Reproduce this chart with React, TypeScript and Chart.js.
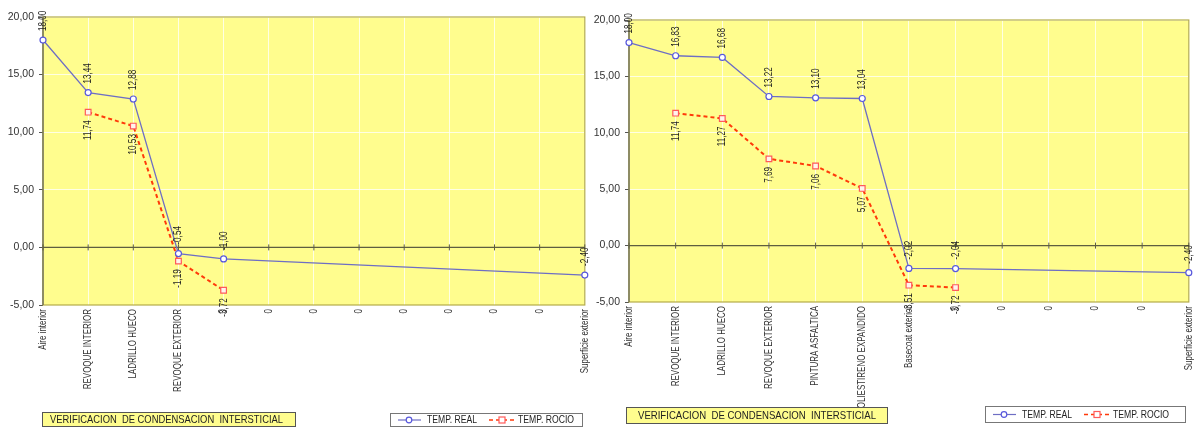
import React, { useEffect, useRef } from 'react';
import { Chart, registerables } from 'chart.js';

Chart.register(...registerables);

// ---------- DATA ----------
const categories1 = ['Aire interior', 'REVOQUE INTERIOR', 'LADRILLO HUECO', 'REVOQUE EXTERIOR', '0', '0', '0', '0', '0', '0', '0', '0', 'Superficie exterior'];
const tempReal1 = [18.0, 13.44, 12.88, -0.54, -1.0, null, null, null, null, null, null, null, -2.4];
const tempRocio1 = [null, 11.74, 10.53, -1.19, -3.72, null, null, null, null, null, null, null, null];

const categories2 = ['Aire interior', 'REVOQUE INTERIOR', 'LADRILLO HUECO', 'REVOQUE EXTERIOR', 'PINTURA ASFALTICA', 'POLIESTIRENO EXPANDIDO', 'Basecoat exterior', '0', '0', '0', '0', '0', 'Superficie exterior'];
const tempReal2 = [18.0, 16.83, 16.68, 13.22, 13.1, 13.04, -2.02, -2.04, null, null, null, null, -2.4];
const tempRocio2 = [null, 11.74, 11.27, 7.69, 7.06, 5.07, -3.51, -3.72, null, null, null, null, null];

const yMin = -5;
const yMax = 20;
const yStep = 5;
const seriesNames = ['TEMP. REAL', 'TEMP. ROCIO'];
const chartTitle = 'VERIFICACION  DE CONDENSACION  INTERSTICIAL';

// ---------- STYLE / LAYOUT ----------
const FONT = '"Liberation Sans", Arial, sans-serif';
const H = 428;
const REAL_COLOR = '#6E6EC4';
const REAL_POINT = '#5858DC';
const ROCIO_COLOR = '#FF3A0A';
const ROCIO_POINT = '#FF5A5A';
const PLOT_BG = '#FFFD8E';

type Layout = {
  left: number;
  width: number;
  area: { l: number; r: number; t: number; b: number };
  titleBox: { x: number; y: number; w: number; h: number; tx: number; tw: number };
  legendBox: { x: number; y: number; w: number; h: number };
};

const layout1: Layout = {
  left: 0,
  width: 590,
  area: { l: 43, r: 587, t: 17, b: 305 },
  titleBox: { x: 42, y: 412, w: 253, h: 14, tx: 8, tw: 233 },
  legendBox: { x: 390, y: 413, w: 192, h: 13 },
};

const layout2: Layout = {
  left: 590,
  width: 604,
  area: { l: 39, r: 599, t: 20, b: 302 },
  titleBox: { x: 36, y: 407, w: 261, h: 16, tx: 12, tw: 238 },
  legendBox: { x: 395, y: 406, w: 200, h: 16 },
};

function fmt(v: number) {
  return v.toFixed(2).replace('.', ',');
}

function fitText(ctx: CanvasRenderingContext2D, text: string, x: number, y: number, targetW: number) {
  const w = ctx.measureText(text).width;
  const s = w > 0 ? targetW / w : 1;
  ctx.save();
  ctx.translate(x, y);
  ctx.scale(s, 1);
  ctx.fillText(text, 0, 0);
  ctx.restore();
}

function makePlugin(lay: Layout, cats: string[]) {
  return {
    id: 'custom-' + lay.left,
    beforeDraw(chart: any) {
      const { ctx, chartArea: a } = chart;
      ctx.save();
      ctx.fillStyle = PLOT_BG;
      ctx.fillRect(a.left, a.top, a.right - a.left, a.bottom - a.top);
      ctx.restore();
    },
    beforeDatasetsDraw(chart: any) {
      const { ctx, chartArea: a } = chart;
      const xs = chart.scales.x;
      const ys = chart.scales.y;
      ctx.save();
      ctx.strokeStyle = '#B4AC48';
      ctx.lineWidth = 1.2;
      ctx.strokeRect(a.left, a.top, a.right - a.left, a.bottom - a.top);
      ctx.strokeStyle = '#6A6A50';
      ctx.lineWidth = 1.3;
      ctx.beginPath();
      ctx.moveTo(a.left, a.top);
      ctx.lineTo(a.left, a.bottom);
      ctx.stroke();
      const y0 = ys.getPixelForValue(0);
      ctx.strokeStyle = '#5E5E40';
      ctx.lineWidth = 1.3;
      ctx.beginPath();
      ctx.moveTo(a.left, y0);
      ctx.lineTo(a.right, y0);
      ctx.stroke();
      ctx.lineWidth = 1;
      for (let i = 0; i < cats.length; i++) {
        const x = xs.getPixelForTick(i);
        ctx.beginPath();
        ctx.moveTo(x, y0 - 3);
        ctx.lineTo(x, y0 + 3);
        ctx.stroke();
      }
      ctx.restore();
    },
    afterDatasetsDraw(chart: any) {
      const { ctx, chartArea: a } = chart;
      const xs = chart.scales.x;
      const SQ = 0.74;
      chart.data.datasets.forEach((ds: any, di: number) => {
        const meta = chart.getDatasetMeta(di);
        meta.data.forEach((pt: any, i: number) => {
          const v = ds.data[i];
          if (v === null || v === undefined) return;
          ctx.save();
          ctx.translate(pt.x, pt.y);
          ctx.rotate(-Math.PI / 2);
          ctx.scale(SQ, 1);
          ctx.font = '11px ' + FONT;
          ctx.fillStyle = '#1E1E1E';
          ctx.textBaseline = 'middle';
          if (di === 0) {
            ctx.textAlign = 'left';
            ctx.fillText(fmt(v), 9 / SQ, 0);
          } else {
            ctx.textAlign = 'right';
            ctx.fillText(fmt(v), -8 / SQ, 0);
          }
          ctx.restore();
        });
      });
      for (let i = 0; i < cats.length; i++) {
        const x = xs.getPixelForTick(i);
        ctx.save();
        ctx.translate(x, a.bottom + 4);
        ctx.rotate(-Math.PI / 2);
        ctx.scale(0.76, 1);
        ctx.font = '10.5px ' + FONT;
        ctx.fillStyle = '#333';
        ctx.textAlign = 'right';
        ctx.textBaseline = 'middle';
        ctx.fillText(cats[i], 0, 0);
        ctx.restore();
      }
    },
    afterDraw(chart: any) {
      const ctx = chart.ctx;
      ctx.save();
      const tb = lay.titleBox;
      ctx.fillStyle = '#FFFD8E';
      ctx.fillRect(tb.x, tb.y, tb.w, tb.h);
      ctx.strokeStyle = '#555';
      ctx.lineWidth = 1;
      ctx.strokeRect(tb.x + 0.5, tb.y + 0.5, tb.w, tb.h);
      ctx.fillStyle = '#222';
      ctx.font = '10.5px ' + FONT;
      ctx.textAlign = 'left';
      ctx.textBaseline = 'middle';
      fitText(ctx, chartTitle, tb.x + tb.tx, tb.y + tb.h / 2 + 1, tb.tw);

      const lb = lay.legendBox;
      ctx.fillStyle = '#FFFFFF';
      ctx.fillRect(lb.x, lb.y, lb.w, lb.h);
      ctx.strokeStyle = '#777';
      ctx.strokeRect(lb.x + 0.5, lb.y + 0.5, lb.w, lb.h);
      const cy = lb.y + lb.h / 2 + 0.5;
      ctx.strokeStyle = REAL_COLOR;
      ctx.lineWidth = 1.2;
      ctx.beginPath();
      ctx.moveTo(lb.x + 8, cy);
      ctx.lineTo(lb.x + 31, cy);
      ctx.stroke();
      ctx.fillStyle = '#fff';
      ctx.strokeStyle = REAL_POINT;
      ctx.beginPath();
      ctx.arc(lb.x + 19, cy, 2.8, 0, Math.PI * 2);
      ctx.fill();
      ctx.stroke();
      ctx.fillStyle = '#222';
      ctx.font = '10px ' + FONT;
      ctx.textBaseline = 'middle';
      fitText(ctx, seriesNames[0], lb.x + 37, cy + 0.5, 50);
      ctx.strokeStyle = ROCIO_COLOR;
      ctx.lineWidth = 1.6;
      ctx.setLineDash([4, 3]);
      ctx.beginPath();
      ctx.moveTo(lb.x + 99, cy);
      ctx.lineTo(lb.x + 125, cy);
      ctx.stroke();
      ctx.setLineDash([]);
      ctx.fillStyle = '#fff';
      ctx.strokeStyle = ROCIO_POINT;
      ctx.lineWidth = 1.2;
      ctx.fillRect(lb.x + 109, cy - 3, 6, 6);
      ctx.strokeRect(lb.x + 109, cy - 3, 6, 6);
      ctx.fillStyle = '#222';
      fitText(ctx, seriesNames[1], lb.x + 128, cy + 0.5, 56);
      ctx.restore();
    },
  };
}

function LineChart({ lay, cats, real, rocio }: { lay: Layout; cats: string[]; real: (number | null)[]; rocio: (number | null)[] }) {
  const ref = useRef<HTMLCanvasElement | null>(null);
  useEffect(() => {
    if (!ref.current) return;
    const chart = new Chart(ref.current, {
      type: 'line',
      data: {
        labels: cats,
        datasets: [
          {
            label: seriesNames[0],
            data: real,
            borderColor: REAL_COLOR,
            borderWidth: 1.3,
            pointStyle: 'circle',
            pointRadius: 3,
            pointBackgroundColor: '#ffffff',
            pointBorderColor: REAL_POINT,
            pointBorderWidth: 1.2,
            spanGaps: true,
            tension: 0,
          },
          {
            label: seriesNames[1],
            data: rocio,
            borderColor: ROCIO_COLOR,
            borderWidth: 2,
            borderDash: [4, 3],
            pointStyle: 'rect',
            pointRadius: 4,
            pointBackgroundColor: '#FFF4EC',
            pointBorderColor: ROCIO_POINT,
            pointBorderWidth: 1.2,
            spanGaps: true,
            tension: 0,
          },
        ],
      },
      options: {
        responsive: false,
        animation: false,
        devicePixelRatio: 1,
        events: [],
        layout: { padding: { left: 0, right: lay.width - lay.area.r, top: lay.area.t, bottom: 0 } },
        plugins: { legend: { display: false }, tooltip: { enabled: false }, title: { display: false } },
        scales: {
          x: {
            type: 'category',
            offset: false,
            ticks: { display: false },
            grid: { color: 'rgba(255,255,255,0.75)', lineWidth: 1, drawTicks: false },
            border: { display: false },
            afterFit: (s: any) => {
              s.height = H - lay.area.b;
            },
          },
          y: {
            min: yMin,
            max: yMax,
            ticks: {
              stepSize: yStep,
              padding: 5,
              color: '#333',
              font: { family: FONT, size: 10.5 },
              callback: (v: any) => fmt(Number(v)),
            },
            grid: { color: 'rgba(255,255,255,0.75)', lineWidth: 1, tickColor: '#555', tickLength: 4 },
            border: { display: false },
            afterFit: (s: any) => {
              s.width = lay.area.l;
            },
          },
        },
      },
      plugins: [makePlugin(lay, cats)],
    } as any);
    return () => chart.destroy();
  }, []);
  return (
    <canvas
      ref={ref}
      width={lay.width}
      height={H}
      style={{ position: 'absolute', left: lay.left, top: 0, width: lay.width, height: H }}
    />
  );
}

export default function App() {
  return (
    <div style={{ position: 'absolute', left: 0, top: 0, width: 1194, height: H, background: '#fff', overflow: 'hidden' }}>
      <LineChart lay={layout1} cats={categories1} real={tempReal1} rocio={tempRocio1} />
      <LineChart lay={layout2} cats={categories2} real={tempReal2} rocio={tempRocio2} />
    </div>
  );
}
